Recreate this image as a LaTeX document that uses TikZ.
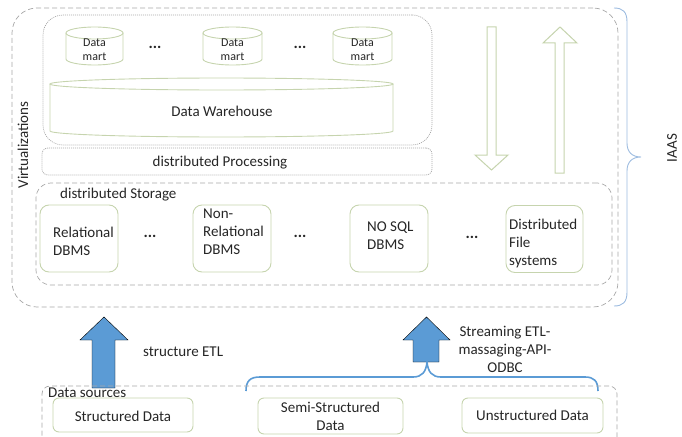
\documentclass[tikz,border=0pt]{standalone}
\usepackage{fontspec}
\setmainfont{Carlito}
\definecolor{txt}{HTML}{262626}
\definecolor{boxgreen}{HTML}{C6D4AE}
\definecolor{dashgray}{HTML}{A8A8A8}
\definecolor{arrowblue}{HTML}{5B9BD5}
\definecolor{bracelight}{HTML}{9DBCE0}
\tikzset{
  lbl/.style={font=\fontsize{15}{18}\selectfont, text=txt, inner sep=0pt, align=left},
  small/.style={font=\fontsize{12}{14}\selectfont, text=txt, inner sep=0pt, align=center},
  dotsym/.style={font=\fontsize{16}{18}\selectfont\bfseries, text=txt, inner sep=0pt},
  dashbox/.style={draw=dashgray, line width=0.7pt, dash pattern=on 5pt off 3pt, inner sep=0pt},
  dotbox/.style={draw=dashgray, line width=0.7pt, dash pattern=on 1pt off 1pt, inner sep=0pt},
  greenbox/.style={draw=boxgreen, line width=0.9pt, rounded corners=9pt, inner sep=0pt},
  cylline/.style={draw=boxgreen, line width=0.9pt},
  hollowarrow/.style={draw=boxgreen, line width=1pt, fill=white},
  blockarrow/.style={fill=arrowblue},
}
% cylinder from x=#1 to x=#2, top y=#3, bottom y=#4
\newcommand\drawcyl[4]{%
  \draw[cylline] (#1,#3+6) -- (#1,#4-6)
    arc[start angle=180, end angle=0, x radius={(#2-#1)/2}, y radius=6] -- (#2,#3+6);
  \draw[cylline] ({(#1+#2)/2},#3+6) ellipse[x radius={(#2-#1)/2}, y radius=6];
}
\begin{document}
\begin{tikzpicture}[x=1pt, y=-1pt]
\useasboundingbox (0,0) rectangle (682,436);
\clip (0,0) rectangle (682,436);

% virtualization layer
\node[dashbox, rounded corners=25pt, minimum width=606pt, minimum height=299pt] (virt) at (315,157.5) {};
\node[lbl, rotate=90] (virtlbl) at (23,145) {Virtualizations};

% warehouse block
\node[dotbox, rounded corners=20pt, minimum width=389pt, minimum height=130pt] (dwbox) at (237.5,80) {};
\drawcyl{66}{123}{27}{65}
\drawcyl{203}{262}{27}{65}
\drawcyl{333}{392}{27}{65}
\node[small] (dm1) at (94.5,50) {Data\\mart};
\node[small] (dm2) at (232.5,50) {Data\\mart};
\node[small] (dm3) at (362.5,50) {Data\\mart};
\node[dotsym] (dmdots1) at (155,47) {...};
\node[dotsym] (dmdots2) at (300,47) {...};
\drawcyl{50}{393}{78}{137}
\node[lbl] (dw) at (222,111) {Data Warehouse};

% processing layer
\node[dotbox, rounded corners=6pt, minimum width=390pt, minimum height=27pt] (proc) at (237,161.5) {};
\node[lbl] (proclbl) at (220,163) {distributed Processing};

% data flow arrows
\draw[hollowarrow] (487,27) -- (487,155) -- (475,155) -- (491.5,170) -- (508,155) -- (496,155) -- (496,27) -- cycle;
\draw[hollowarrow] (555,173) -- (555,43) -- (543,43) -- (560,27) -- (577,43) -- (564,43) -- (564,173) -- cycle;

% storage layer
\node[dashbox, rounded corners=15pt, minimum width=576pt, minimum height=102pt] (store) at (324,234) {};
\node[lbl, anchor=west] (storelbl) at (60,195) {distributed Storage};
\node[greenbox, minimum width=78pt, minimum height=67pt] (rel) at (79,238.5) {};
\node[greenbox, minimum width=78pt, minimum height=67pt] (nonrel) at (232,238.5) {};
\node[greenbox, minimum width=78pt, minimum height=67pt] (nosql) at (389,238.5) {};
\node[greenbox, minimum width=77pt, minimum height=67pt] (dfs) at (544.5,239) {};
\node[lbl, anchor=west] (rellbl) at (53,241) {Relational\\DBMS};
\node[lbl, anchor=west] (nonrellbl) at (203,232) {Non-\\Relational\\DBMS};
\node[lbl, anchor=west] (nosqllbl) at (367,236) {NO SQL\\DBMS};
\node[lbl, anchor=west] (dfslbl) at (509,243) {Distributed\\File\\systems};
\node[dotsym] (sdots1) at (150,236) {...};
\node[dotsym] (sdots2) at (300,236) {...};
\node[dotsym] (sdots3) at (472,237) {...};

% IaaS brace
\draw[bracelight, line width=0.9pt] (614,8) .. controls (623,8) and (627,12) .. (627,22) -- (627,143)
  .. controls (627,152) and (632,157) .. (641,157)
  .. controls (632,157) and (627,162) .. (627,171) -- (627,292)
  .. controls (627,302) and (623,306) .. (614,306);
\node[lbl, rotate=90] (iaas) at (672,148) {IAAS};

% ingestion arrows
\draw[blockarrow] (92,388) -- (92,340) -- (80,340) -- (104,317) -- (128,340) -- (115,340) -- (115,388) -- cycle;
\draw[blockarrow] (413,362) -- (413,340) -- (403,340) -- (426.5,317) -- (450,340) -- (439,340) -- (439,362) -- cycle;
\node[lbl, anchor=west] (etl) at (143,352) {structure ETL};
\node[lbl, align=center] (stream) at (505,349) {Streaming ETL-\\massaging-API-\\ODBC};
\draw[arrowblue, line width=1.6pt] (246,391) .. controls (246,381) and (250,377) .. (260,377) -- (413,377)
  .. controls (422,377) and (426,372) .. (427,362)
  .. controls (428,372) and (432,377) .. (441,377) -- (585,377)
  .. controls (594,377) and (598,381) .. (598,391);

% data sources
\node[dashbox, rounded corners=8pt, minimum width=575pt, minimum height=60pt] (src) at (329.5,416) {};
\node[lbl, anchor=west] (srclbl) at (48,393) {Data sources};
\node[greenbox, rounded corners=6pt, minimum width=140pt, minimum height=34pt] (sd) at (123,415) {};
\node[greenbox, rounded corners=6pt, minimum width=145pt, minimum height=36pt] (ssd) at (330.5,416) {};
\node[greenbox, rounded corners=6pt, minimum width=141pt, minimum height=35pt] (ud) at (532.5,415.5) {};
\node[lbl] (sdlbl) at (123,416) {Structured Data};
\node[lbl, align=center] (ssdlbl) at (330.5,416.5) {Semi-Structured\\Data};
\node[lbl] (udlbl) at (532.5,415) {Unstructured Data};
\end{tikzpicture}
\end{document}
